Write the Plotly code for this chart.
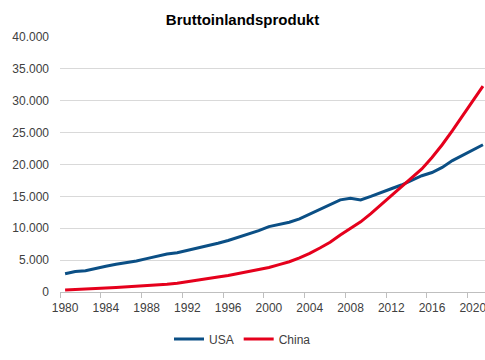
import plotly.graph_objects as go

years = list(range(1980, 2022))
usa = [2857, 3207, 3343, 3634, 4037, 4339, 4580, 4855, 5236, 5642,
       5963, 6158, 6520, 6859, 7287, 7640, 8073, 8578, 9063, 9631,
       10252, 10582, 10936, 11458, 12214, 13037, 13815, 14452, 14713, 14449,
       14992, 15543, 16197, 16785, 17527, 18238, 18745, 19543, 20612, 21433,
       22300, 23100]
china = [330, 380, 440, 520, 620, 720, 800, 910, 1030, 1120,
         1220, 1380, 1600, 1850, 2100, 2350, 2600, 2900, 3150, 3450,
         3850, 4300, 4750, 5350, 6050, 6900, 7800, 8950, 9950, 11000,
         12300, 13700, 15150, 16500, 17900, 19300, 21100, 23100, 25300, 27700,
         29900, 32300]
label_years = list(range(1980, 2021, 4))
boundary_ticks = [y - 0.5 for y in range(1980, 2024, 4)]
y_ticks = list(range(0, 40001, 5000))

fig = go.Figure()
fig.add_trace(go.Scatter(x=years, y=usa, name="USA", mode="lines",
                         line=dict(color="#0b4f85", width=3)))
fig.add_trace(go.Scatter(x=years, y=china, name="China", mode="lines",
                         line=dict(color="#e5001c", width=3)))

fig.update_layout(
    width=485, height=360,
    margin=dict(l=60, r=0, t=37, b=68),
    paper_bgcolor="white", plot_bgcolor="white",
    font=dict(family="Liberation Sans, Arial, sans-serif", size=12, color="#404040"),
    separators=",.",
    title=dict(text="<b>Bruttoinlandsprodukt</b>", x=0.5, xref="container",
               xanchor="center", y=340/360, yref="container", yanchor="middle",
               font=dict(size=15, color="black")),
    showlegend=True,
    legend=dict(orientation="h", x=0.5, xref="container", xanchor="center",
                y=21/360, yref="container", yanchor="middle",
                font=dict(size=12, color="#404040"), itemwidth=30),
    xaxis=dict(range=[1979.5, 2021.2], tickmode="array", tickvals=label_years,
               ticktext=[str(y) for y in label_years], ticks="", showgrid=False,
               showline=True, linecolor="#bfbfbf", linewidth=1, zeroline=False,
               ticklabelstandoff=5, ticklabeloverflow="allow",
               minor=dict(tickmode="array", tickvals=boundary_ticks, ticks="outside",
                          ticklen=5, tickcolor="#bfbfbf", showgrid=False)),
    yaxis=dict(range=[0, 40000], tickmode="array", tickvals=y_ticks,
               tickformat=",.0f", showgrid=True, gridcolor="#d9d9d9", gridwidth=1,
               zeroline=False, showline=False, ticks="", ticklabelstandoff=10),
)

fig.write_html("out.html", config={"displayModeBar": False},
               post_script="document.body.style.margin='0';")
